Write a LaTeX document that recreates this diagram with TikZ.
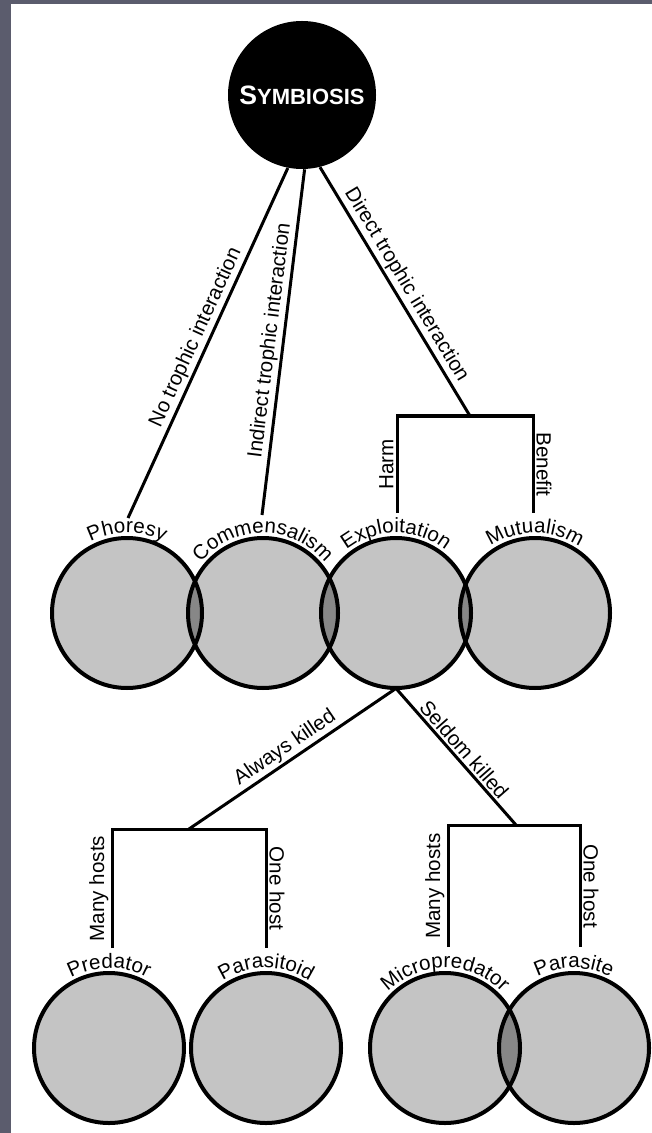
\documentclass[tikz,border=0pt]{standalone}
\usepackage{fontspec}
\setmainfont{Liberation Sans}
\usepackage{tikz}
\usetikzlibrary{decorations.text}
\usetikzlibrary{arrows.meta, positioning}
\definecolor{framegrey}{RGB}{91,92,109}
\definecolor{vennfill}{RGB}{196,196,196}
\definecolor{lensfill}{RGB}{135,135,135}

\begin{document}
\fontsize{10.3}{12}\selectfont
\begin{tikzpicture}[x=0.5pt, y=0.5pt,
  venn/.style={circle, fill=vennfill, minimum size=75pt, inner sep=0pt},
  ring/.style={line width=2pt},
  link/.style={line width=1.5pt},
  lbl/.style={sloped, above, inner sep=1pt},
  arclbl/.style={decorate, decoration={text along path, text align=center, text={#1}}}]
  \useasboundingbox (0,0) rectangle (652,-1133);
  \fill[framegrey] (0,0) rectangle (11,-1133);
  \fill[framegrey] (0,0) rectangle (652,-4);

  \node[circle, fill=black, minimum size=74pt, inner sep=0pt, text=white,
    font=\bfseries] (symb) at (302,-95)
    {{\fontsize{13.3}{14}\selectfont S}{\fontsize{11}{12}\selectfont YMBIOSIS}};

  \node[venn] (phoresy) at (127,-613) {};
  \node[venn] (comm) at (263,-613) {};
  \node[venn] (exploit) at (396,-613) {};
  \node[venn] (mutual) at (535,-613) {};
  \node[venn] (pred) at (109,-1048) {};
  \node[venn] (paroid) at (266,-1048) {};
  \node[venn] (micro) at (445,-1048) {};
  \node[venn] (parasite) at (574,-1048) {};

  \foreach \a/\b in {phoresy/comm, comm/exploit, exploit/mutual, micro/parasite}{
    \begin{scope}
      \clip (\a.center) circle[radius=75];
      \fill[lensfill] (\b.center) circle[radius=75];
    \end{scope}
  }
  \foreach \n in {phoresy, comm, exploit, mutual, pred, paroid, micro, parasite}
    \draw[ring] (\n.center) circle[radius=75];

  \path[arclbl=Phoresy] (phoresy.center) ++(170:80) arc[start angle=170, end angle=10, radius=80];
  \path[arclbl=Commensalism] (comm.center) ++(170:80) arc[start angle=170, end angle=10, radius=80];
  \path[arclbl=Exploitation] (exploit.center) ++(170:80) arc[start angle=170, end angle=10, radius=80];
  \path[arclbl=Mutualism] (mutual.center) ++(170:80) arc[start angle=170, end angle=10, radius=80];
  \path[arclbl=Predator] (pred.center) ++(170:80) arc[start angle=170, end angle=10, radius=80];
  \path[arclbl=Parasitoid] (paroid.center) ++(170:80) arc[start angle=170, end angle=10, radius=80];
  \path[arclbl=Micropredator] (micro.center) ++(170:80) arc[start angle=170, end angle=10, radius=80];
  \path[arclbl=Parasite] (parasite.center) ++(170:80) arc[start angle=170, end angle=10, radius=80];

  \coordinate (phoresy-end) at (128,-518);
  \coordinate (comm-end) at (262,-515);
  \coordinate (dir-end) at (470,-416);
  \coordinate (harm-end) at (397,-513);
  \coordinate (benefit-end) at (533,-513);
  \coordinate (always-end) at (189,-829);
  \coordinate (seldom-end) at (516,-825);
  \coordinate (pred-end) at (112,-948);
  \coordinate (paroid-end) at (266,-948);
  \coordinate (micro-end) at (448,-947);
  \coordinate (parasite-end) at (580,-947);

  \draw[link] (symb.-101) -- node[lbl] {No trophic interaction} (phoresy-end);
  \draw[link] (symb.-88) -- node[lbl] {Indirect trophic interaction} (comm-end);
  \draw[link] (symb.-76) -- node[lbl] {Direct trophic interaction} (dir-end);
  \draw[link] (harm-end) -- node[lbl] {Harm} (harm-end |- dir-end)
    -- (benefit-end |- dir-end) -- node[lbl] {Benefit} (benefit-end);

  \draw[link] (exploit.south) -- node[lbl] {Always killed} (always-end);
  \draw[link] (exploit.south) -- node[lbl] {Seldom killed} (seldom-end);
  \draw[link] (pred-end) -- node[lbl] {Many hosts} (pred-end |- always-end)
    -- (paroid-end |- always-end) -- node[lbl] {One host} (paroid-end);
  \draw[link] (micro-end) -- node[lbl] {Many hosts} (micro-end |- seldom-end)
    -- (parasite-end |- seldom-end) -- node[lbl] {One host} (parasite-end);
\end{tikzpicture}
\end{document}
